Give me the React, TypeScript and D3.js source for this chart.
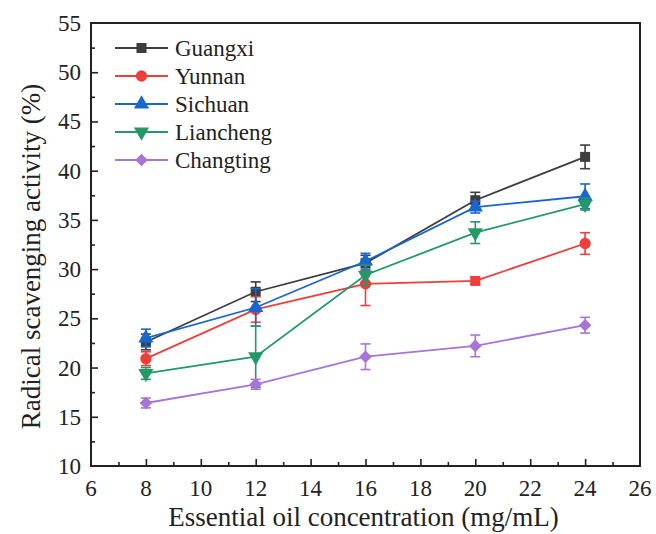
import React, { useEffect, useRef } from 'react';
import * as d3 from 'd3';

// concentrations (mg/mL)
const concentrations = [8, 12, 16, 20, 24];

const seriesNames = ['Guangxi', 'Yunnan', 'Sichuan', 'Liancheng', 'Changting'];

const guangxi = [22.6, 27.7, 30.6, 37.0, 41.4];
const guangxiErr = [0.8, 1.0, 0.8, 0.8, 1.2];
const yunnan = [20.9, 25.9, 28.5, 28.8, 32.6];
const yunnanErr = [0.7, 1.3, 2.2, 0.3, 1.1];
const sichuan = [23.0, 26.1, 30.8, 36.3, 37.4];
const sichuanErr = [0.9, 1.9, 0.8, 0.6, 1.25];
const liancheng = [19.4, 21.1, 29.4, 33.7, 36.6];
const lianchengErr = [0.6, 3.1, 1.0, 1.1, 0.6];
const changting = [16.4, 18.3, 21.1, 22.2, 24.3];
const changtingErr = [0.5, 0.5, 1.3, 1.1, 0.8];

const xTicks = [6, 8, 10, 12, 14, 16, 18, 20, 22, 24, 26];
const yTicks = [10, 15, 20, 25, 30, 35, 40, 45, 50, 55];

const colors = ['#3d3d3d', '#ee3d3a', '#1a66cf', '#23996a', '#a874d8'];
// 'diamond' here is a square turned 45 degrees, like Origin draws it
const symbols = ['square', 'circle', 'triangle', 'down', 'diamond'];
// the Yunnan point at 20 mg/mL is drawn as a square in the original
const yunnanSymbols = ['circle', 'circle', 'circle', 'square', 'circle'];

const symbolPath = (name: string) => {
  if (name === 'circle') return d3.symbol().type(d3.symbolCircle).size(100)();
  if (name === 'triangle' || name === 'down') return d3.symbol().type(d3.symbolTriangle).size(100)();
  if (name === 'diamond') return d3.symbol().type(d3.symbolSquare).size(80)();
  return d3.symbol().type(d3.symbolSquare).size(100)();
};
const symbolRot = (name: string) => (name === 'down' ? ' rotate(180)' : name === 'diamond' ? ' rotate(45)' : '');

const App = () => {
  const ref = useRef<SVGSVGElement>(null);

  useEffect(() => {
    const width = 656;
    const height = 534;
    const margin = { top: 23, right: 16, bottom: 68, left: 91 };
    const font = 'Liberation Serif, Times New Roman, DejaVu Serif, serif';

    const svg = d3.select(ref.current);
    svg.selectAll('*').remove();
    svg.attr('width', width).attr('height', height);
    svg.append('rect').attr('width', width).attr('height', height).attr('fill', '#fff');

    const x = d3.scaleLinear().domain([6, 26]).range([margin.left, width - margin.right]);
    const y = d3.scaleLinear().domain([10, 55]).range([height - margin.bottom, margin.top]);

    const data = [
      { name: seriesNames[0], v: guangxi, e: guangxiErr },
      { name: seriesNames[1], v: yunnan, e: yunnanErr },
      { name: seriesNames[2], v: sichuan, e: sichuanErr },
      { name: seriesNames[3], v: liancheng, e: lianchengErr },
      { name: seriesNames[4], v: changting, e: changtingErr },
    ];

    // axes: ticks pointing inward
    const gx = svg.append('g').attr('transform', `translate(0,${y(10)})`);
    gx.call(d3.axisTop(x).tickValues(d3.range(6, 26.01, 1)).tickFormat(() => '').tickSizeInner(0).tickSizeOuter(0));
    gx.select('.domain').remove();
    gx.selectAll('.tick line')
      .attr('y2', (d: any) => (d % 2 === 0 ? -7 : -4))
      .attr('stroke', '#222').attr('stroke-width', 1.6);
    gx.selectAll('.tick').filter((d: any) => d === 6 || d === 26).remove();

    const gy = svg.append('g').attr('transform', `translate(${x(6)},0)`);
    gy.call(d3.axisRight(y).tickValues(d3.range(10, 55.01, 2.5)).tickFormat(() => '').tickSizeInner(0).tickSizeOuter(0));
    gy.select('.domain').remove();
    gy.selectAll('.tick line')
      .attr('x2', (d: any) => (d % 5 === 0 ? 7 : 4))
      .attr('stroke', '#222').attr('stroke-width', 1.6);
    gy.selectAll('.tick').filter((d: any) => d === 10 || d === 55).remove();

    // tick labels
    svg.append('g').selectAll('text').data(xTicks).enter().append('text')
      .attr('x', (d) => x(d)).attr('y', y(10) + 30)
      .attr('text-anchor', 'middle')
      .attr('font-family', font).attr('font-size', 23).attr('fill', '#222')
      .text((d) => d);
    svg.append('g').selectAll('text').data(yTicks).enter().append('text')
      .attr('x', x(6) - 10).attr('y', (d) => y(d) + 8)
      .attr('text-anchor', 'end')
      .attr('font-family', font).attr('font-size', 23).attr('fill', '#222')
      .text((d) => d);

    // frame
    svg.append('rect')
      .attr('x', x(6)).attr('y', y(55))
      .attr('width', x(26) - x(6)).attr('height', y(10) - y(55))
      .attr('fill', 'none').attr('stroke', '#222').attr('stroke-width', 2);

    // titles
    svg.append('text')
      .attr('x', (x(6) + x(26)) / 2 - 2).attr('y', 526)
      .attr('text-anchor', 'middle')
      .attr('font-family', font).attr('font-size', 27).attr('fill', '#222')
      .text('Essential oil concentration (mg/mL)');
    svg.append('text')
      .attr('transform', `translate(40,${(y(10) + y(55)) / 2 + 12}) rotate(-90)`)
      .attr('text-anchor', 'middle')
      .attr('font-family', font).attr('font-size', 27).attr('fill', '#222')
      .text('Radical scavenging activity (%)');

    const line = d3.line<number>().x((_, i) => x(concentrations[i])).y((d) => y(d));

    data.forEach((s, si) => {
      const g = svg.append('g');
      const c = colors[si];
      g.append('path').attr('d', line(s.v)).attr('fill', 'none')
        .attr('stroke', c).attr('stroke-width', 1.8);

      // error bars
      s.v.forEach((v, i) => {
        const cx = x(concentrations[i]);
        const lo = y(v - s.e[i]);
        const hi = y(v + s.e[i]);
        g.append('line').attr('x1', cx).attr('x2', cx).attr('y1', lo).attr('y2', hi)
          .attr('stroke', c).attr('stroke-width', 1.6);
        [lo, hi].forEach((yy) => {
          g.append('line').attr('x1', cx - 5).attr('x2', cx + 5).attr('y1', yy).attr('y2', yy)
            .attr('stroke', c).attr('stroke-width', 1.6);
        });
      });

      g.selectAll('path.pt').data(s.v).enter().append('path')
        .attr('class', 'pt')
        .attr('d', (_, i) => symbolPath(si === 1 ? yunnanSymbols[i] : symbols[si]))
        .attr('transform', (d, i) => {
          const name = si === 1 ? yunnanSymbols[i] : symbols[si];
          return `translate(${x(concentrations[i])},${y(d)})${symbolRot(name)}`;
        })
        .attr('fill', c);
    });

    // legend
    const legend = svg.append('g');
    data.forEach((s, si) => {
      const ly = 48 + si * 28;
      legend.append('line').attr('x1', 115).attr('x2', 168).attr('y1', ly).attr('y2', ly)
        .attr('stroke', colors[si]).attr('stroke-width', 1.8);
      legend.append('path')
        .attr('d', symbolPath(symbols[si]))
        .attr('transform', `translate(141.5,${ly})${symbolRot(symbols[si])}`)
        .attr('fill', colors[si]);
      legend.append('text').attr('x', 175).attr('y', ly + 8)
        .attr('font-family', font).attr('font-size', 23).attr('fill', '#222')
        .text(s.name);
    });
  }, []);

  return (
    <svg ref={ref} style={{ position: 'absolute', left: 0, top: 0, display: 'block' }} />
  );
};

export default App;
